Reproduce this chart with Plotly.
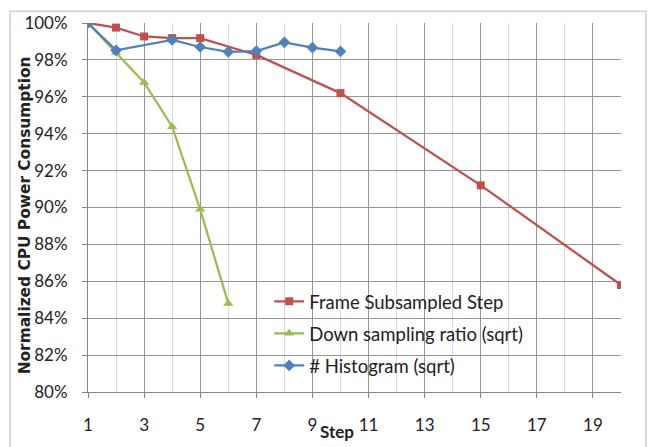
import plotly.graph_objects as go

frame_x = [1, 2, 3, 4, 5, 7, 10, 15, 20]
frame_y = [100.0, 99.75, 99.27, 99.18, 99.18, 98.27, 96.2, 91.2, 85.8]

down_x = [1, 2, 3, 4, 5, 6]
down_y = [100.0, 98.4, 96.78, 94.38, 89.9, 84.8]

hist_x = [1, 2, 4, 5, 6, 7, 8, 9, 10]
hist_y = [100.0, 98.52, 99.08, 98.7, 98.44, 98.48, 98.95, 98.67, 98.46]

x_ticks = [1, 3, 5, 7, 9, 11, 13, 15, 17, 19]
y_ticks = [80, 82, 84, 86, 88, 90, 92, 94, 96, 98, 100]
y_labels = [f"{v}%" for v in y_ticks]

FONT = "Lato"
FS = 17

fig = go.Figure()
fig.add_trace(go.Scatter(x=frame_x, y=frame_y, mode="lines+markers", name="Frame Subsampled Step",
                         legendgroup="a", line=dict(color="#C0504D", width=2.25),
                         marker=dict(symbol="square", size=8, color="#C0504D")))
fig.add_trace(go.Scatter(x=down_x, y=down_y, mode="lines+markers", name="Down sampling ratio (sqrt)",
                         legendgroup="b", line=dict(color="#9BBB59", width=2.25),
                         marker=dict(symbol="triangle-up", size=9, color="#9BBB59")))
fig.add_trace(go.Scatter(x=hist_x, y=hist_y, mode="lines+markers", name="# Histogram (sqrt)",
                         legendgroup="c", line=dict(color="#4F81BD", width=2.25),
                         marker=dict(symbol="diamond", size=9, color="#4F81BD")))

fig.update_layout(
    width=649, height=447,
    margin=dict(l=88, r=28, t=18, b=53),
    paper_bgcolor="white", plot_bgcolor="white",
    font=dict(family=FONT, size=FS, color="#222"),
    showlegend=True,
    legend=dict(x=0.34, y=0.296, xanchor="left", yanchor="top", bgcolor="rgba(0,0,0,0)",
                font=dict(family=FONT, size=18.5, color="#222"), tracegroupgap=5,
                traceorder="grouped", itemwidth=30),
    xaxis=dict(range=[1, 20], tickmode="array", tickvals=x_ticks, ticks="outside", ticklen=5,
               tickcolor="#868686", showline=True, linecolor="#868686", linewidth=1,
               showgrid=True, gridcolor="#969696", gridwidth=1,
               minor=dict(dtick=1, showgrid=True, gridcolor="#d9d9d9", gridwidth=1),
               tickfont=dict(family=FONT, size=FS, color="#222"), ticklabelstandoff=13,
               zeroline=False),
    yaxis=dict(range=[80, 100], tickmode="array", tickvals=y_ticks, ticktext=y_labels,
               ticks="outside", ticklen=5, tickcolor="#868686",
               showline=True, linecolor="#868686", linewidth=1,
               showgrid=True, gridcolor="#969696", gridwidth=1,
               tickfont=dict(family=FONT, size=FS, color="#222"), ticklabelstandoff=11,
               zeroline=False),
)

fig.add_annotation(text="<b>Step</b>", xref="paper", yref="paper", x=(337 - 88) / 533,
                   y=-(434 - 394) / 376, showarrow=False, xanchor="center", yanchor="middle",
                   font=dict(family=FONT, size=FS, color="#222"))
fig.add_annotation(text="<b>Normalized CPU Power Consumption</b>", xref="paper", yref="paper",
                   x=-(88 - 25) / 533, y=(394 - 214) / 376, textangle=-90, showarrow=False,
                   xanchor="center", yanchor="middle",
                   font=dict(family="DejaVu Sans", size=15.4, color="#222"))

fig.add_shape(type="rect", xref="paper", yref="paper",
              x0=-(88 - 10) / 533, x1=1 + (646 - 621) / 533,
              y0=-(460 - 394) / 376, y1=1 + (18 - 6) / 376,
              line=dict(color="#d0d0d0", width=1.5), fillcolor="rgba(0,0,0,0)", layer="below")

fig.write_html("out.html")
